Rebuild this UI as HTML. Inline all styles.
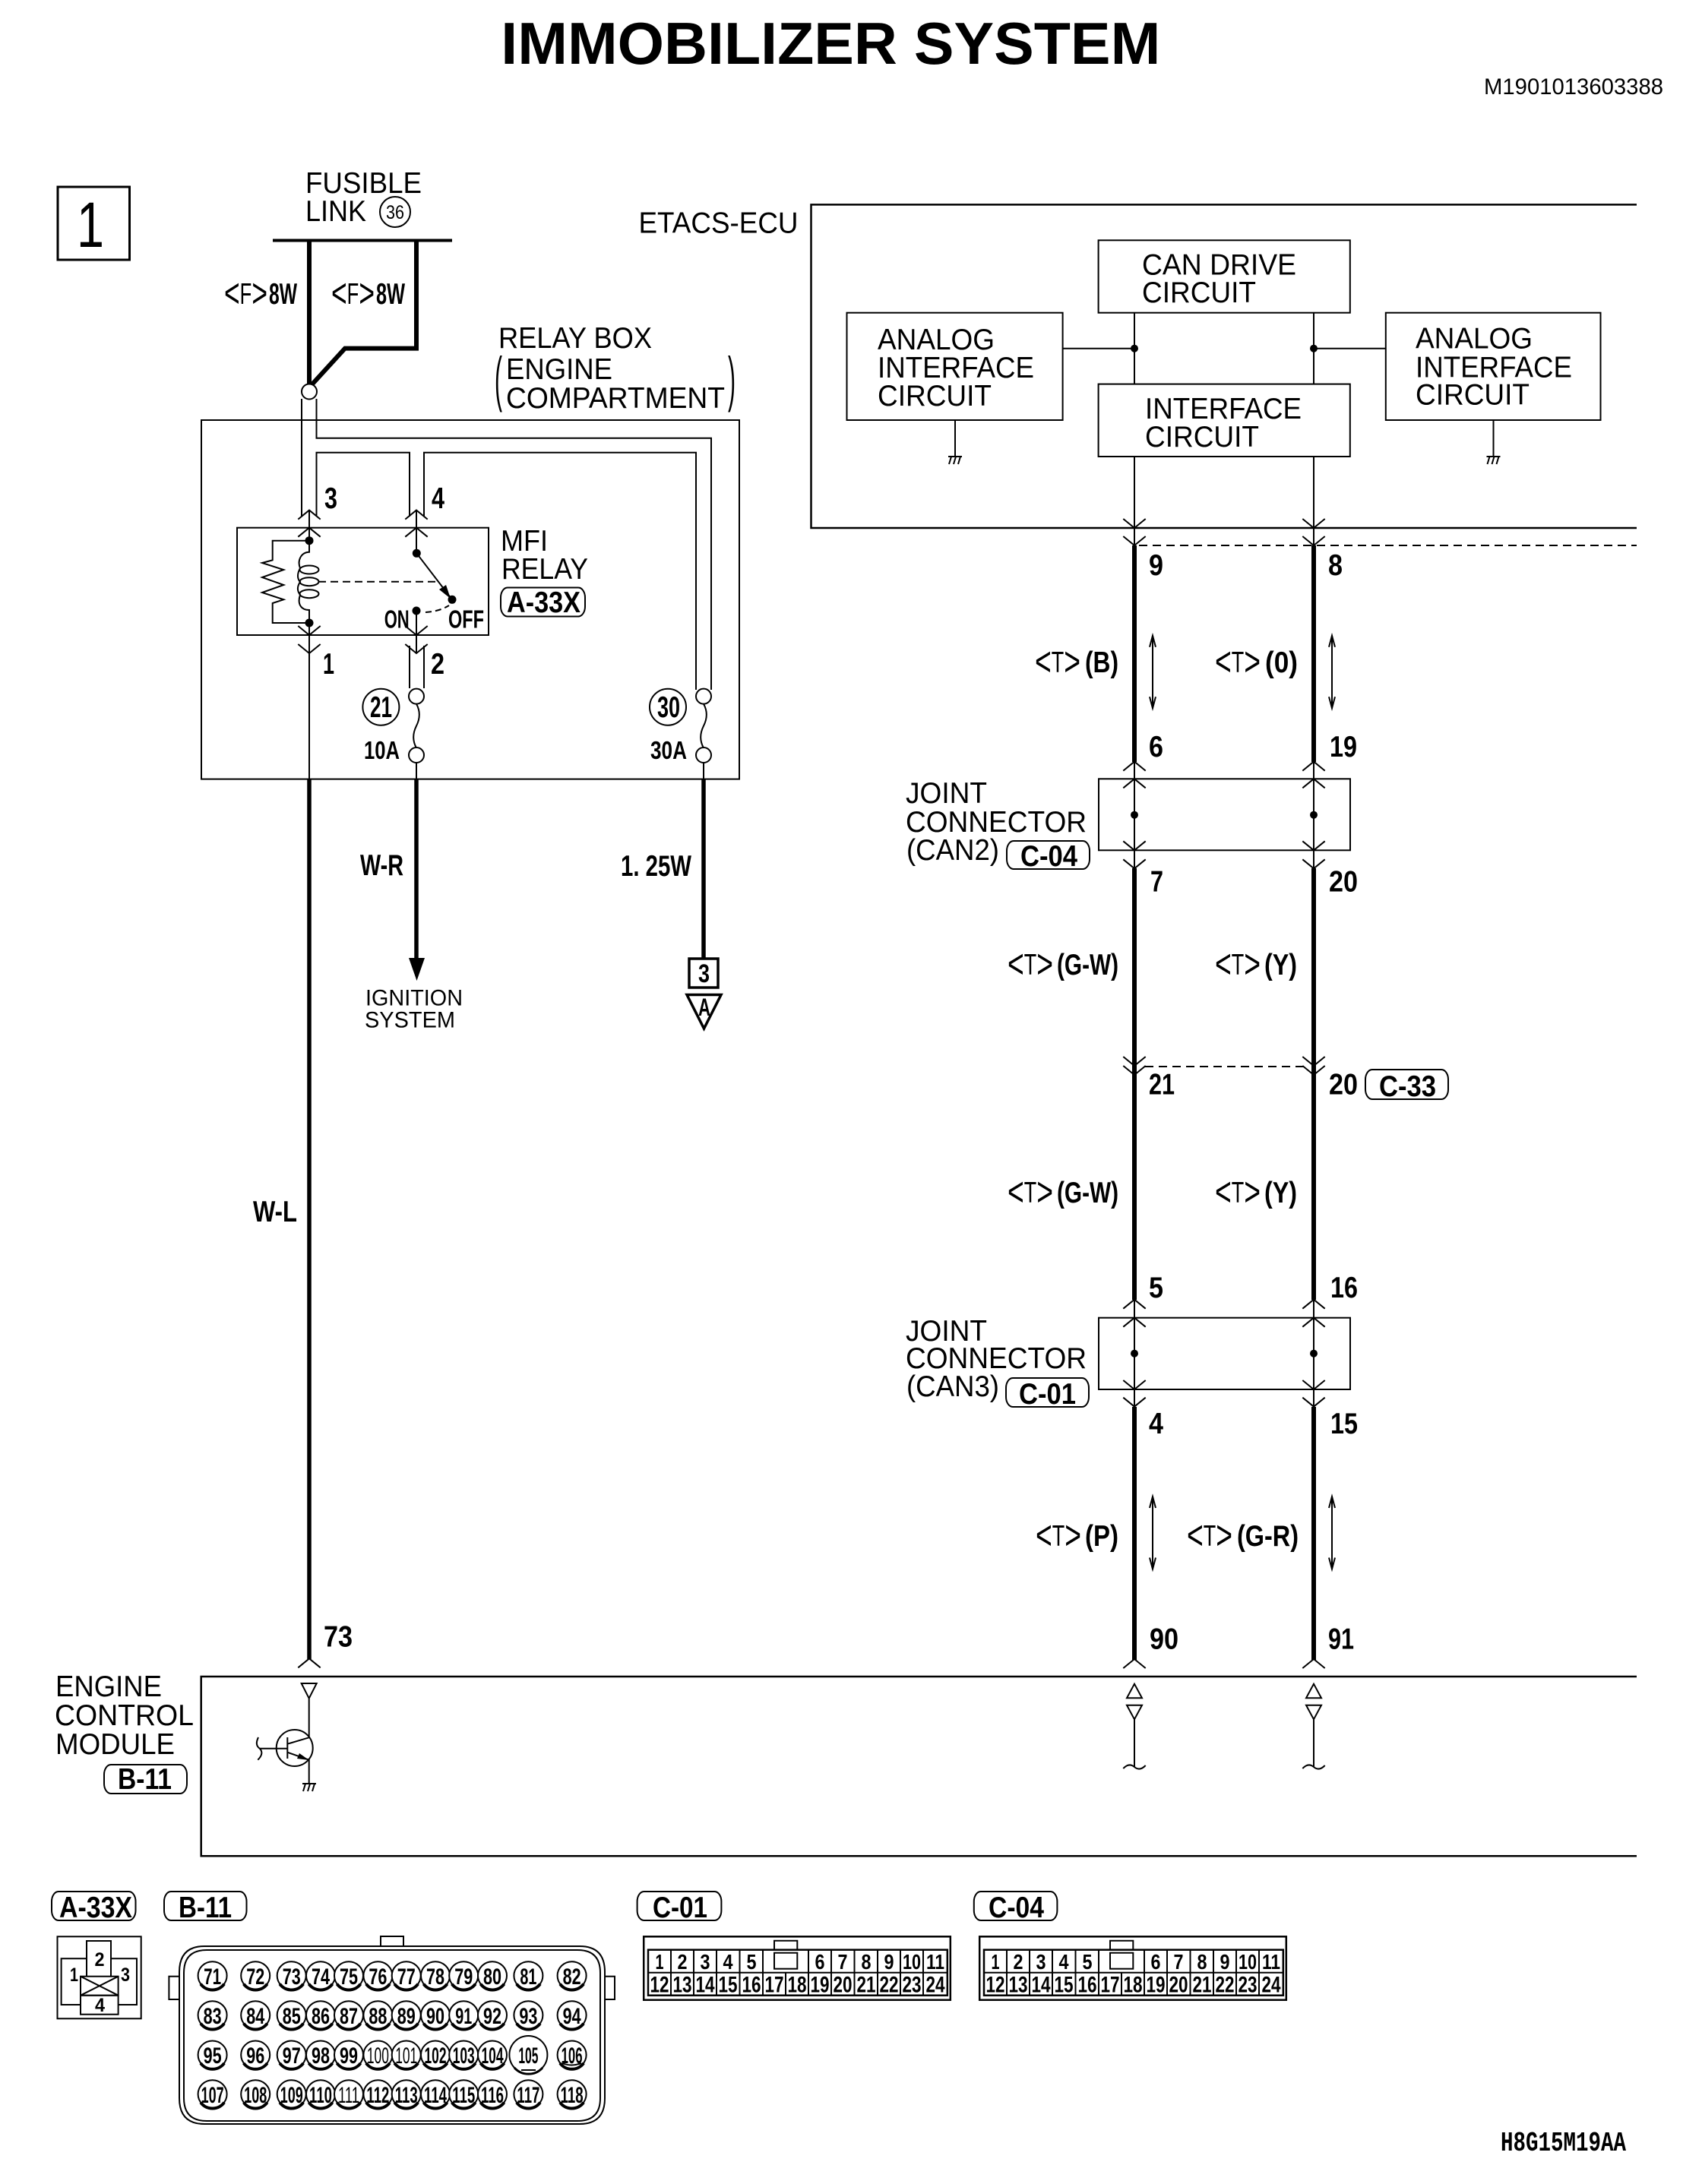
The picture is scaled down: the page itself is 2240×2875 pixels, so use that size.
<!DOCTYPE html>
<html><head><meta charset="utf-8"><title>IMMOBILIZER SYSTEM</title>
<style>
html,body{margin:0;padding:0;background:#fff}
svg{display:block}
text{font-family:"Liberation Sans",sans-serif;fill:#000;stroke:none}
.r{font-size:39px}
.b{font-size:39px;font-weight:bold}
.s{font-size:30px}
.p{font-size:30px;font-weight:bold;text-anchor:middle}
.c{font-size:28px;font-weight:bold;text-anchor:middle}
.d{font-size:30px;font-weight:bold;text-anchor:middle}
.k{font-size:54px;font-weight:normal}
</style></head><body>
<svg xmlns="http://www.w3.org/2000/svg" width="2240" height="2875" viewBox="0 0 2240 2875">
<defs>
<path id="up" d="M-14.7 12L0 0L14.7 12" fill="none" stroke="#000" stroke-width="2"/>
<path id="dn" d="M-14.7 -12L0 0L14.7 -12" fill="none" stroke="#000" stroke-width="2"/>
<path id="gnd" d="M-9 0H9M-5 0L-8 10M1 0L-2 10M7 0L4 10" fill="none" stroke="#000" stroke-width="2"/>
<path id="arr" d="M0 0V95.5M-4 15L0 0L4 15M-4 80.5L0 95.5L4 80.5" fill="none" stroke="#000" stroke-width="2"/>
<path id="fuse" d="M0 10C5 19 5 29 0 39C-5 49 -5 59 0 68" fill="none" stroke="#000" stroke-width="2"/>
<g id="pin"><ellipse cx="0" cy="0" rx="19" ry="18.5" fill="#fff" stroke="#000" stroke-width="2"/><path d="M-15.5 11A19 18.5 0 0 0 15.5 11" fill="none" stroke="#000" stroke-width="4"/></g>
<path id="tilde" d="M-14.7 2Q-7 -6 0 0Q7 6 14.7 -2" fill="none" stroke="#000" stroke-width="2"/>
</defs>
<rect width="2240" height="2875" fill="#fff"/>

<!-- header -->
<text x="659.3" y="84" font-size="78" font-weight="bold" textLength="868" lengthAdjust="spacingAndGlyphs">IMMOBILIZER SYSTEM</text>
<text x="1953" y="124" font-size="30" textLength="236" lengthAdjust="spacingAndGlyphs">M1901013603388</text>
<text x="1975" y="2831" font-size="36" font-weight="bold" textLength="165" lengthAdjust="spacingAndGlyphs" style="font-family:'Liberation Mono',monospace">H8G15M19AA</text>
<rect x="76" y="246" width="94.5" height="96" fill="none" stroke="#000" stroke-width="3"/>
<text x="101" y="325" font-size="84" textLength="36" lengthAdjust="spacingAndGlyphs">1</text>

<!-- fusible link -->
<text class="r" x="402" y="254" textLength="153" lengthAdjust="spacingAndGlyphs">FUSIBLE</text>
<text class="r" x="402" y="291" textLength="80" lengthAdjust="spacingAndGlyphs">LINK</text>
<circle cx="520" cy="279" r="20" fill="none" stroke="#000" stroke-width="2"/>
<text x="508" y="288" font-size="25" textLength="24" lengthAdjust="spacingAndGlyphs">36</text>
<path d="M359 316.5H595" stroke="#000" stroke-width="4" fill="none"/>
<path d="M407 316V505M548 316V458.6H454L407 510" stroke="#000" stroke-width="6" fill="none"/>
<text class="r" x="295" y="400" textLength="57" lengthAdjust="spacingAndGlyphs"><tspan class="k" dy="4">&lt;</tspan><tspan dy="-4">F</tspan><tspan class="k" dy="4">&gt;</tspan></text>
<text class="b" x="354" y="400" textLength="37" lengthAdjust="spacingAndGlyphs">8W</text>
<text class="r" x="436" y="400" textLength="57" lengthAdjust="spacingAndGlyphs"><tspan class="k" dy="4">&lt;</tspan><tspan dy="-4">F</tspan><tspan class="k" dy="4">&gt;</tspan></text>
<text class="b" x="495" y="400" textLength="38" lengthAdjust="spacingAndGlyphs">8W</text>

<!-- relay box -->
<text class="r" x="656" y="458" textLength="202" lengthAdjust="spacingAndGlyphs">RELAY BOX</text>
<text class="r" x="666" y="499" textLength="140" lengthAdjust="spacingAndGlyphs">ENGINE</text>
<text class="r" x="666" y="537" textLength="288" lengthAdjust="spacingAndGlyphs">COMPARTMENT</text>
<text x="651" y="526" font-size="80" textLength="10" lengthAdjust="spacingAndGlyphs">(</text>
<text x="958" y="526" font-size="80" textLength="10" lengthAdjust="spacingAndGlyphs">)</text>
<g fill="none" stroke="#000" stroke-width="2">
<rect x="265" y="553" width="708" height="472.6"/>
<path d="M397 525V680M416.5 525V576.8H936V908M416.5 680V595.7H539V680M558 680V595.7H916V908"/>
<rect x="312" y="694.7" width="331" height="141.3"/>
<path d="M407 672V711M548 672V728M407 820V1025M548 804V860"/>
<path d="M539 850V906M558 850V906"/>
<path d="M403 711.7H358.7V737.3L345 741L373.3 750L345 760L373.3 770L345 780L373.3 789.3L358.7 794V820H403"/>
<path d="M407 711.7V726.7C396 727 391 738 395 748C391 755 391 762 395 766C391 772 391 778 395 783C391 795 396 803 407 803V820"/>
<ellipse cx="407" cy="750" rx="12.5" ry="5.5"/><ellipse cx="407" cy="765.7" rx="12.5" ry="5.5"/><ellipse cx="407" cy="781.7" rx="12.5" ry="5.5"/>
<path d="M419 765.7H577" stroke-dasharray="10 6"/>
<path d="M548.3 728.3L595 789.3"/>
<path d="M560 806Q578 805 591 797" stroke-dasharray="8 5"/>
</g>
<polygon points="593,788 578,776 587,770"/>
<circle cx="407" cy="711.7" r="5.5"/><circle cx="407" cy="820" r="5.5"/><circle cx="548.3" cy="728.3" r="5.5"/><circle cx="595" cy="789.3" r="5.5"/><circle cx="548" cy="804" r="5.5"/>
<use href="#up" x="407" y="671.6"/><use href="#up" x="407" y="694.7"/><use href="#up" x="548" y="671.6"/><use href="#up" x="548" y="694.7"/>
<use href="#dn" x="407" y="836"/><use href="#dn" x="407" y="860"/><use href="#dn" x="548" y="836"/><use href="#dn" x="548" y="860"/>
<text class="b" x="427" y="669" textLength="17" lengthAdjust="spacingAndGlyphs">3</text>
<text class="b" x="568" y="669" textLength="17" lengthAdjust="spacingAndGlyphs">4</text>
<text class="b" x="425" y="887" textLength="15" lengthAdjust="spacingAndGlyphs">1</text>
<text class="b" x="567" y="887" textLength="18" lengthAdjust="spacingAndGlyphs">2</text>
<text class="r" x="659" y="725" textLength="62" lengthAdjust="spacingAndGlyphs">MFI</text>
<text class="r" x="660" y="762" textLength="114" lengthAdjust="spacingAndGlyphs">RELAY</text>
<rect x="659" y="773.5" width="111" height="38" rx="9" ry="13" fill="none" stroke="#000" stroke-width="2"/>
<text class="b" x="667" y="806" textLength="97" lengthAdjust="spacingAndGlyphs">A-33X</text>
<text x="505.7" y="826.7" font-size="33" font-weight="bold" textLength="33" lengthAdjust="spacingAndGlyphs">ON</text>
<text x="590" y="826.7" font-size="33" font-weight="bold" textLength="47" lengthAdjust="spacingAndGlyphs">OFF</text>
<!-- fuses -->
<g fill="#fff" stroke="#000" stroke-width="2">
<circle cx="407" cy="515.5" r="10"/>
<circle cx="548" cy="916.6" r="10"/><circle cx="548" cy="994" r="10"/>
<circle cx="926" cy="916.6" r="10"/><circle cx="926" cy="994" r="10"/>
<circle cx="501.4" cy="930.7" r="24"/><circle cx="879" cy="930.7" r="24"/>
</g>
<use href="#fuse" x="548" y="916.6"/><use href="#fuse" x="926" y="916.6"/>
<path d="M548 1004V1025M926 1004V1025" stroke="#000" stroke-width="2"/>
<text class="b" x="487" y="944" textLength="29" lengthAdjust="spacingAndGlyphs">21</text>
<text class="b" x="865" y="944" textLength="30" lengthAdjust="spacingAndGlyphs">30</text>
<text x="479" y="999" font-size="33" font-weight="bold" textLength="47" lengthAdjust="spacingAndGlyphs">10A</text>
<text x="856" y="999" font-size="33" font-weight="bold" textLength="48" lengthAdjust="spacingAndGlyphs">30A</text>
<!-- lower wires -->
<path d="M407 1025V2184M548 1025V1263M926 1025V1261" stroke="#000" stroke-width="5.5" fill="none"/>
<polygon points="538,1261 559,1261 548.5,1291"/>
<text class="b" x="474" y="1152" textLength="57" lengthAdjust="spacingAndGlyphs">W-R</text>
<text class="b" x="817" y="1153" textLength="93" lengthAdjust="spacingAndGlyphs">1. 25W</text>
<text class="b" x="333" y="1608" textLength="58" lengthAdjust="spacingAndGlyphs">W-L</text>
<text class="s" x="481" y="1323.5" textLength="128" lengthAdjust="spacingAndGlyphs">IGNITION</text>
<text class="s" x="480" y="1352.5" textLength="119" lengthAdjust="spacingAndGlyphs">SYSTEM</text>
<rect x="907" y="1262" width="38" height="38" fill="none" stroke="#000" stroke-width="3.5"/>
<text x="919" y="1293" font-size="34" font-weight="bold" textLength="15" lengthAdjust="spacingAndGlyphs">3</text>
<polygon points="904,1309.5 949,1309.5 926.5,1354" fill="none" stroke="#000" stroke-width="3.5"/>
<text x="919" y="1337" font-size="32" font-weight="bold" textLength="16" lengthAdjust="spacingAndGlyphs">A</text>

<!-- ETACS -->
<text class="r" x="840.5" y="306.7" textLength="210" lengthAdjust="spacingAndGlyphs">ETACS-ECU</text>
<g fill="none" stroke="#000" stroke-width="2">
<path d="M2154 269.4H1067.5V695H2154" stroke-width="2.5"/>
<rect x="1445.6" y="316.3" width="331.2" height="95.4"/>
<rect x="1114.5" y="411.7" width="284.1" height="141.3"/>
<rect x="1823.8" y="411.7" width="282.7" height="141.3"/>
<rect x="1445.6" y="505.6" width="331.2" height="95.4"/>
<path d="M1493 411.7V505.6M1729 411.7V505.6M1398.6 458.7H1493M1729 458.7H1823.8M1493 601V718M1729 601V718M1257 553V600M1965.5 553V600"/>
<path d="M1499 718H2154" stroke-dasharray="11 7"/>
</g>
<circle cx="1493" cy="458.7" r="5"/><circle cx="1729" cy="458.7" r="5"/>
<use href="#gnd" x="1257" y="601"/><use href="#gnd" x="1965.5" y="601"/>
<text class="r" x="1503" y="361.5" textLength="203" lengthAdjust="spacingAndGlyphs">CAN DRIVE</text>
<text class="r" x="1503" y="398" textLength="150" lengthAdjust="spacingAndGlyphs">CIRCUIT</text>
<text class="r" x="1155" y="460" textLength="154" lengthAdjust="spacingAndGlyphs">ANALOG</text>
<text class="r" x="1155" y="497" textLength="206" lengthAdjust="spacingAndGlyphs">INTERFACE</text>
<text class="r" x="1155" y="534" textLength="150" lengthAdjust="spacingAndGlyphs">CIRCUIT</text>
<text class="r" x="1863" y="458.7" textLength="154" lengthAdjust="spacingAndGlyphs">ANALOG</text>
<text class="r" x="1863" y="496.5" textLength="206" lengthAdjust="spacingAndGlyphs">INTERFACE</text>
<text class="r" x="1863" y="532.7" textLength="150" lengthAdjust="spacingAndGlyphs">CIRCUIT</text>
<text class="r" x="1507" y="551" textLength="206" lengthAdjust="spacingAndGlyphs">INTERFACE</text>
<text class="r" x="1507" y="587.8" textLength="150" lengthAdjust="spacingAndGlyphs">CIRCUIT</text>

<!-- CAN thick wires -->
<path d="M1493 718V1003M1729 718V1003M1493 1143V1711M1729 1143V1711M1493 1852V2185M1729 1852V2185" stroke="#000" stroke-width="6" fill="none"/>
<g>
<use href="#dn" x="1493" y="695"/><use href="#dn" x="1493" y="718"/><use href="#dn" x="1729" y="695"/><use href="#dn" x="1729" y="718"/>
<use href="#up" x="1493" y="1002.6"/><use href="#up" x="1493" y="1025.3"/><use href="#up" x="1729" y="1002.6"/><use href="#up" x="1729" y="1025.3"/>
<use href="#dn" x="1493" y="1119.3"/><use href="#dn" x="1493" y="1143.3"/><use href="#dn" x="1729" y="1119.3"/><use href="#dn" x="1729" y="1143.3"/>
<use href="#dn" x="1493" y="1403"/><use href="#dn" x="1493" y="1415"/><use href="#dn" x="1729" y="1403"/><use href="#dn" x="1729" y="1415"/>
<use href="#up" x="1493" y="1710.7"/><use href="#up" x="1493" y="1734.7"/><use href="#up" x="1729" y="1710.7"/><use href="#up" x="1729" y="1734.7"/>
<use href="#dn" x="1493" y="1829"/><use href="#dn" x="1493" y="1851.7"/><use href="#dn" x="1729" y="1829"/><use href="#dn" x="1729" y="1851.7"/>
<use href="#up" x="407" y="2183.3"/><use href="#up" x="1493" y="2184"/><use href="#up" x="1729" y="2184"/>
</g>
<g fill="none" stroke="#000" stroke-width="2">
<rect x="1446" y="1025.3" width="331" height="94"/>
<rect x="1446" y="1734.7" width="331" height="94.3"/>
<path d="M1493 1003V1143M1729 1003V1143M1493 1711V1852M1729 1711V1852"/>
<path d="M1507 1404H1719" stroke-dasharray="11 7"/>
</g>
<circle cx="1493" cy="1072.7" r="5"/><circle cx="1729" cy="1072.7" r="5"/><circle cx="1493" cy="1781.7" r="5"/><circle cx="1729" cy="1781.7" r="5"/>
<use href="#arr" x="1517" y="836.7"/><use href="#arr" x="1753" y="836.7"/><use href="#arr" x="1517" y="1970"/><use href="#arr" x="1753" y="1970"/>

<!-- pin numbers -->
<text class="b" x="1512" y="757" textLength="19" lengthAdjust="spacingAndGlyphs">9</text>
<text class="b" x="1748" y="757" textLength="19" lengthAdjust="spacingAndGlyphs">8</text>
<text class="b" x="1512" y="996" textLength="19" lengthAdjust="spacingAndGlyphs">6</text>
<text class="b" x="1750" y="996" textLength="36" lengthAdjust="spacingAndGlyphs">19</text>
<text class="b" x="1514" y="1173.5" textLength="17" lengthAdjust="spacingAndGlyphs">7</text>
<text class="b" x="1749" y="1173.5" textLength="38" lengthAdjust="spacingAndGlyphs">20</text>
<text class="b" x="1512" y="1440.5" textLength="34" lengthAdjust="spacingAndGlyphs">21</text>
<text class="b" x="1749" y="1440.5" textLength="38" lengthAdjust="spacingAndGlyphs">20</text>
<text class="b" x="1512" y="1708" textLength="19" lengthAdjust="spacingAndGlyphs">5</text>
<text class="b" x="1751" y="1708" textLength="36" lengthAdjust="spacingAndGlyphs">16</text>
<text class="b" x="1512" y="1887" textLength="19" lengthAdjust="spacingAndGlyphs">4</text>
<text class="b" x="1751" y="1887" textLength="36" lengthAdjust="spacingAndGlyphs">15</text>
<text class="b" x="1513" y="2170.7" textLength="38" lengthAdjust="spacingAndGlyphs">90</text>
<text class="b" x="1748" y="2170.7" textLength="34" lengthAdjust="spacingAndGlyphs">91</text>
<text class="b" x="426" y="2167.5" textLength="38" lengthAdjust="spacingAndGlyphs">73</text>

<!-- wire colour labels -->
<text class="r" x="1362" y="885" textLength="60" lengthAdjust="spacingAndGlyphs"><tspan class="k" dy="4">&lt;</tspan><tspan dy="-4">T</tspan><tspan class="k" dy="4">&gt;</tspan></text>
<text class="b" x="1428" y="885" textLength="44" lengthAdjust="spacingAndGlyphs">(B)</text>
<text class="r" x="1599" y="885" textLength="60" lengthAdjust="spacingAndGlyphs"><tspan class="k" dy="4">&lt;</tspan><tspan dy="-4">T</tspan><tspan class="k" dy="4">&gt;</tspan></text>
<text class="b" x="1665" y="885" textLength="43" lengthAdjust="spacingAndGlyphs">(0)</text>
<text class="r" x="1326" y="1283" textLength="60" lengthAdjust="spacingAndGlyphs"><tspan class="k" dy="4">&lt;</tspan><tspan dy="-4">T</tspan><tspan class="k" dy="4">&gt;</tspan></text>
<text class="b" x="1391" y="1283" textLength="81" lengthAdjust="spacingAndGlyphs">(G-W)</text>
<text class="r" x="1599" y="1283" textLength="60" lengthAdjust="spacingAndGlyphs"><tspan class="k" dy="4">&lt;</tspan><tspan dy="-4">T</tspan><tspan class="k" dy="4">&gt;</tspan></text>
<text class="b" x="1664" y="1283" textLength="43" lengthAdjust="spacingAndGlyphs">(Y)</text>
<text class="r" x="1326" y="1583" textLength="60" lengthAdjust="spacingAndGlyphs"><tspan class="k" dy="4">&lt;</tspan><tspan dy="-4">T</tspan><tspan class="k" dy="4">&gt;</tspan></text>
<text class="b" x="1391" y="1583" textLength="81" lengthAdjust="spacingAndGlyphs">(G-W)</text>
<text class="r" x="1599" y="1583" textLength="60" lengthAdjust="spacingAndGlyphs"><tspan class="k" dy="4">&lt;</tspan><tspan dy="-4">T</tspan><tspan class="k" dy="4">&gt;</tspan></text>
<text class="b" x="1664" y="1583" textLength="43" lengthAdjust="spacingAndGlyphs">(Y)</text>
<text class="r" x="1363" y="2035" textLength="60" lengthAdjust="spacingAndGlyphs"><tspan class="k" dy="4">&lt;</tspan><tspan dy="-4">T</tspan><tspan class="k" dy="4">&gt;</tspan></text>
<text class="b" x="1428" y="2035" textLength="44" lengthAdjust="spacingAndGlyphs">(P)</text>
<text class="r" x="1562" y="2035" textLength="60" lengthAdjust="spacingAndGlyphs"><tspan class="k" dy="4">&lt;</tspan><tspan dy="-4">T</tspan><tspan class="k" dy="4">&gt;</tspan></text>
<text class="b" x="1628" y="2035" textLength="81" lengthAdjust="spacingAndGlyphs">(G-R)</text>

<!-- joint connector labels -->
<text class="r" x="1192" y="1057" textLength="107" lengthAdjust="spacingAndGlyphs">JOINT</text>
<text class="r" x="1192" y="1095" textLength="238" lengthAdjust="spacingAndGlyphs">CONNECTOR</text>
<text class="r" x="1193" y="1132" textLength="122" lengthAdjust="spacingAndGlyphs">(CAN2)</text>
<rect x="1325" y="1107" width="109" height="37" rx="9" ry="13" fill="none" stroke="#000" stroke-width="2"/>
<text class="b" x="1343" y="1140" textLength="75" lengthAdjust="spacingAndGlyphs">C-04</text>
<rect x="1797" y="1408" width="109" height="39" rx="9" ry="13" fill="none" stroke="#000" stroke-width="2"/>
<text class="b" x="1815" y="1443" textLength="75" lengthAdjust="spacingAndGlyphs">C-33</text>
<text class="r" x="1192" y="1765" textLength="107" lengthAdjust="spacingAndGlyphs">JOINT</text>
<text class="r" x="1192" y="1801" textLength="238" lengthAdjust="spacingAndGlyphs">CONNECTOR</text>
<text class="r" x="1193" y="1838" textLength="122" lengthAdjust="spacingAndGlyphs">(CAN3)</text>
<rect x="1324" y="1814" width="109" height="38" rx="9" ry="13" fill="none" stroke="#000" stroke-width="2"/>
<text class="b" x="1341" y="1848" textLength="75" lengthAdjust="spacingAndGlyphs">C-01</text>

<!-- ECM -->
<g fill="none" stroke="#000" stroke-width="2.5">
<path d="M2154 2207H264.7V2443.3H2154"/>
</g>
<g fill="none" stroke="#000" stroke-width="2">
<polygon points="396.7,2216 416.7,2216 406.7,2235.7"/>
<path d="M406.7 2235.7V2287.3L378.3 2295.7M378.3 2287V2315M378.3 2306.7L406.7 2316.7V2348"/>
<circle cx="387.7" cy="2301" r="24"/>
<path d="M341.7 2301.7H378.3"/>
<path d="M340 2287Q335 2297 341.7 2301.7Q348 2308 339.3 2316.7"/>
<polygon points="1483,2235.3 1503,2235.3 1493,2216.7"/>
<polygon points="1483,2244.7 1503,2244.7 1493,2263.3"/>
<polygon points="1719,2235.3 1739,2235.3 1729,2216.7"/>
<polygon points="1719,2244.7 1739,2244.7 1729,2263.3"/>
<path d="M1493 2263V2326M1729 2263V2326"/>
</g>
<polygon points="406.7,2317 394,2308 391,2315"/>
<use href="#gnd" x="407" y="2348"/>
<use href="#tilde" x="1493" y="2326"/><use href="#tilde" x="1729" y="2326"/>
<text class="r" x="73" y="2233" textLength="140" lengthAdjust="spacingAndGlyphs">ENGINE</text>
<text class="r" x="72" y="2271" textLength="183" lengthAdjust="spacingAndGlyphs">CONTROL</text>
<text class="r" x="73" y="2309" textLength="157" lengthAdjust="spacingAndGlyphs">MODULE</text>
<rect x="137" y="2323" width="109" height="38" rx="9" ry="13" fill="none" stroke="#000" stroke-width="2"/>
<text class="b" x="155" y="2355" textLength="71" lengthAdjust="spacingAndGlyphs">B-11</text>

<!-- bottom connector tags -->
<g fill="none" stroke="#000" stroke-width="2">
<rect x="68" y="2490" width="110.5" height="38" rx="9" ry="13"/>
<rect x="216" y="2490" width="108.5" height="38" rx="9" ry="13"/>
<rect x="838.6" y="2490" width="110.8" height="38" rx="9" ry="13"/>
<rect x="1281.8" y="2490" width="109.6" height="38" rx="9" ry="13"/>
</g>
<text class="b" x="78" y="2524" textLength="96" lengthAdjust="spacingAndGlyphs">A-33X</text>
<text class="b" x="235" y="2524" textLength="70" lengthAdjust="spacingAndGlyphs">B-11</text>
<text class="b" x="859" y="2524" textLength="72" lengthAdjust="spacingAndGlyphs">C-01</text>
<text class="b" x="1301" y="2524" textLength="73" lengthAdjust="spacingAndGlyphs">C-04</text>

<!-- A-33X connector -->
<g fill="none" stroke="#000" stroke-width="2">
<rect x="75.5" y="2549.3" width="110.2" height="108"/>
<path d="M114 2601.7V2555H146V2601.7"/>
<path d="M114 2578.3H80.6V2639H106M146 2578.3H180V2639H155.6"/>
<rect x="106" y="2601.7" width="49.6" height="25"/>
<path d="M106 2601.7L155.6 2626.7M155.6 2601.7L106 2626.7"/>
<rect x="106" y="2626.7" width="49.6" height="25"/>
</g>
<text class="d" x="131" y="2588" textLength="13" lengthAdjust="spacingAndGlyphs" style="font-size:25px">2</text>
<text class="d" x="97.5" y="2608" textLength="11" lengthAdjust="spacingAndGlyphs" style="font-size:25px">1</text>
<text class="d" x="165" y="2608" textLength="12" lengthAdjust="spacingAndGlyphs" style="font-size:25px">3</text>
<text class="d" x="131.5" y="2648" textLength="13" lengthAdjust="spacingAndGlyphs" style="font-size:25px">4</text>

<!-- B-11 connector -->
<g fill="none" stroke="#000" stroke-width="2">
<rect x="501" y="2549" width="30" height="18"/>
<rect x="222.4" y="2601.7" width="19.6" height="30.3"/>
<rect x="790" y="2601.7" width="19" height="30.3"/>
<path d="M269 2562H763Q796 2562 796 2596V2762Q796 2796 763 2796H269Q236 2796 236 2762V2596Q236 2562 269 2562Z" fill="#fff"/>
<path d="M272 2567H760Q790 2567 790 2597V2762Q790 2792 760 2792H272Q242 2792 242 2762V2597Q242 2567 272 2567Z"/>
</g>
<use href="#pin" x="279.6" y="2600.7"/><use href="#pin" x="336.2" y="2600.7"/><use href="#pin" x="383.7" y="2600.7"/><use href="#pin" x="422" y="2600.7"/><use href="#pin" x="459" y="2600.7"/><use href="#pin" x="497.4" y="2600.7"/><use href="#pin" x="534.7" y="2600.7"/><use href="#pin" x="573" y="2600.7"/><use href="#pin" x="610.2" y="2600.7"/><use href="#pin" x="648" y="2600.7"/><use href="#pin" x="695.4" y="2600.7"/><use href="#pin" x="752.6" y="2600.7"/>
<use href="#pin" x="279.6" y="2652.7"/><use href="#pin" x="336.2" y="2652.7"/><use href="#pin" x="383.7" y="2652.7"/><use href="#pin" x="422" y="2652.7"/><use href="#pin" x="459" y="2652.7"/><use href="#pin" x="497.4" y="2652.7"/><use href="#pin" x="534.7" y="2652.7"/><use href="#pin" x="573" y="2652.7"/><use href="#pin" x="610.2" y="2652.7"/><use href="#pin" x="648" y="2652.7"/><use href="#pin" x="695.4" y="2652.7"/><use href="#pin" x="752.6" y="2652.7"/>
<use href="#pin" x="279.6" y="2705"/><use href="#pin" x="336.2" y="2705"/><use href="#pin" x="383.7" y="2705"/><use href="#pin" x="422" y="2705"/><use href="#pin" x="459" y="2705"/><use href="#pin" x="497.4" y="2705"/><use href="#pin" x="534.7" y="2705"/><use href="#pin" x="573" y="2705"/><use href="#pin" x="610.2" y="2705"/><use href="#pin" x="648" y="2705"/><use href="#pin" x="752.6" y="2705"/>
<use href="#pin" x="279.6" y="2756.7"/><use href="#pin" x="336.2" y="2756.7"/><use href="#pin" x="383.7" y="2756.7"/><use href="#pin" x="422" y="2756.7"/><use href="#pin" x="459" y="2756.7"/><use href="#pin" x="497.4" y="2756.7"/><use href="#pin" x="534.7" y="2756.7"/><use href="#pin" x="573" y="2756.7"/><use href="#pin" x="610.2" y="2756.7"/><use href="#pin" x="648" y="2756.7"/><use href="#pin" x="695.4" y="2756.7"/><use href="#pin" x="752.6" y="2756.7"/>
<ellipse cx="695.4" cy="2705" rx="25" ry="25" fill="#fff" stroke="#000" stroke-width="2"/>
<path d="M677 2722A25 25 0 0 0 714 2722" fill="none" stroke="#000" stroke-width="3"/>
<path d="M686 2725H705" stroke="#000" stroke-width="2"/>
<path d="M740 2716Q752 2721 765 2716" fill="none" stroke="#000" stroke-width="2"/>
<g>
<text class="p" x="279.6" y="2612" textLength="23" lengthAdjust="spacingAndGlyphs">71</text><text class="p" x="336.2" y="2612" textLength="24" lengthAdjust="spacingAndGlyphs">72</text><text class="p" x="383.7" y="2612" textLength="24" lengthAdjust="spacingAndGlyphs">73</text><text class="p" x="422" y="2612" textLength="24" lengthAdjust="spacingAndGlyphs">74</text><text class="p" x="459" y="2612" textLength="24" lengthAdjust="spacingAndGlyphs">75</text><text class="p" x="497.4" y="2612" textLength="24" lengthAdjust="spacingAndGlyphs">76</text><text class="p" x="534.7" y="2612" textLength="24" lengthAdjust="spacingAndGlyphs">77</text><text class="p" x="573" y="2612" textLength="24" lengthAdjust="spacingAndGlyphs">78</text><text class="p" x="610.2" y="2612" textLength="24" lengthAdjust="spacingAndGlyphs">79</text><text class="p" x="648" y="2612" textLength="24" lengthAdjust="spacingAndGlyphs">80</text><text class="p" x="695.4" y="2612" textLength="22" lengthAdjust="spacingAndGlyphs">81</text><text class="p" x="752.6" y="2612" textLength="24" lengthAdjust="spacingAndGlyphs">82</text>
<text class="p" x="279.6" y="2664" textLength="24" lengthAdjust="spacingAndGlyphs">83</text><text class="p" x="336.2" y="2664" textLength="24" lengthAdjust="spacingAndGlyphs">84</text><text class="p" x="383.7" y="2664" textLength="24" lengthAdjust="spacingAndGlyphs">85</text><text class="p" x="422" y="2664" textLength="24" lengthAdjust="spacingAndGlyphs">86</text><text class="p" x="459" y="2664" textLength="24" lengthAdjust="spacingAndGlyphs">87</text><text class="p" x="497.4" y="2664" textLength="24" lengthAdjust="spacingAndGlyphs">88</text><text class="p" x="534.7" y="2664" textLength="24" lengthAdjust="spacingAndGlyphs">89</text><text class="p" x="573" y="2664" textLength="24" lengthAdjust="spacingAndGlyphs">90</text><text class="p" x="610.2" y="2664" textLength="22" lengthAdjust="spacingAndGlyphs">91</text><text class="p" x="648" y="2664" textLength="24" lengthAdjust="spacingAndGlyphs">92</text><text class="p" x="695.4" y="2664" textLength="24" lengthAdjust="spacingAndGlyphs">93</text><text class="p" x="752.6" y="2664" textLength="24" lengthAdjust="spacingAndGlyphs">94</text>
<text class="p" x="279.6" y="2716" textLength="24" lengthAdjust="spacingAndGlyphs">95</text><text class="p" x="336.2" y="2716" textLength="24" lengthAdjust="spacingAndGlyphs">96</text><text class="p" x="383.7" y="2716" textLength="24" lengthAdjust="spacingAndGlyphs">97</text><text class="p" x="422" y="2716" textLength="24" lengthAdjust="spacingAndGlyphs">98</text><text class="p" x="459" y="2716" textLength="24" lengthAdjust="spacingAndGlyphs">99</text><text class="p" x="497.4" y="2716" textLength="29" lengthAdjust="spacingAndGlyphs" font-weight="normal" style="font-weight:normal">100</text><text class="p" x="534.7" y="2716" textLength="29" lengthAdjust="spacingAndGlyphs" style="font-weight:normal">101</text><text class="p" x="573" y="2716" textLength="29" lengthAdjust="spacingAndGlyphs">102</text><text class="p" x="610.2" y="2716" textLength="29" lengthAdjust="spacingAndGlyphs">103</text><text class="p" x="648" y="2716" textLength="29" lengthAdjust="spacingAndGlyphs">104</text><text class="p" x="695.4" y="2716" textLength="26" lengthAdjust="spacingAndGlyphs">105</text><text class="p" x="752.6" y="2716" textLength="28" lengthAdjust="spacingAndGlyphs">106</text>
<text class="p" x="279.6" y="2768" textLength="30" lengthAdjust="spacingAndGlyphs">107</text><text class="p" x="336.2" y="2768" textLength="30" lengthAdjust="spacingAndGlyphs">108</text><text class="p" x="383.7" y="2768" textLength="30" lengthAdjust="spacingAndGlyphs">109</text><text class="p" x="422" y="2768" textLength="30" lengthAdjust="spacingAndGlyphs">110</text><text class="p" x="459" y="2768" textLength="28" lengthAdjust="spacingAndGlyphs" style="font-weight:normal">111</text><text class="p" x="497.4" y="2768" textLength="30" lengthAdjust="spacingAndGlyphs">112</text><text class="p" x="534.7" y="2768" textLength="30" lengthAdjust="spacingAndGlyphs">113</text><text class="p" x="573" y="2768" textLength="30" lengthAdjust="spacingAndGlyphs">114</text><text class="p" x="610.2" y="2768" textLength="30" lengthAdjust="spacingAndGlyphs">115</text><text class="p" x="648" y="2768" textLength="30" lengthAdjust="spacingAndGlyphs">116</text><text class="p" x="695.4" y="2768" textLength="30" lengthAdjust="spacingAndGlyphs">117</text><text class="p" x="752.6" y="2768" textLength="30" lengthAdjust="spacingAndGlyphs">118</text>
</g>

<!-- C-01 grid -->
<g fill="none" stroke="#000" stroke-width="2">
<rect x="847.2" y="2549.3" width="403.6" height="83.4" stroke-width="2.5"/>
<rect x="853" y="2566.7" width="393.8" height="60" stroke-width="2.5"/>
<path d="M853 2596.7H1246.8M883 2566.7V2626.7M913 2566.7V2626.7M943 2566.7V2626.7M973.5 2566.7V2626.7M1004 2566.7V2626.7M1034 2596.7V2626.7M1064 2566.7V2626.7M1094 2566.7V2626.7M1124.5 2566.7V2626.7M1155 2566.7V2626.7M1185 2566.7V2626.7M1215 2566.7V2626.7"/>
<path d="M1019 2566.7V2554.7H1049.3V2566.7"/>
<rect x="1019" y="2570.7" width="30.3" height="21"/>
</g>
<g>
<text class="c" x="868" y="2592" textLength="11" lengthAdjust="spacingAndGlyphs">1</text><text class="c" x="898" y="2592" textLength="13" lengthAdjust="spacingAndGlyphs">2</text><text class="c" x="928" y="2592" textLength="13" lengthAdjust="spacingAndGlyphs">3</text><text class="c" x="958" y="2592" textLength="13" lengthAdjust="spacingAndGlyphs">4</text><text class="c" x="989" y="2592" textLength="13" lengthAdjust="spacingAndGlyphs">5</text><text class="c" x="1079" y="2592" textLength="13" lengthAdjust="spacingAndGlyphs">6</text><text class="c" x="1109" y="2592" textLength="13" lengthAdjust="spacingAndGlyphs">7</text><text class="c" x="1140" y="2592" textLength="13" lengthAdjust="spacingAndGlyphs">8</text><text class="c" x="1170" y="2592" textLength="13" lengthAdjust="spacingAndGlyphs">9</text><text class="c" x="1200" y="2592" textLength="24" lengthAdjust="spacingAndGlyphs">10</text><text class="c" x="1231" y="2592" textLength="24" lengthAdjust="spacingAndGlyphs">11</text>
<text class="d" x="868" y="2622.5" textLength="25" lengthAdjust="spacingAndGlyphs">12</text><text class="d" x="898" y="2622.5" textLength="25" lengthAdjust="spacingAndGlyphs">13</text><text class="d" x="928" y="2622.5" textLength="25" lengthAdjust="spacingAndGlyphs">14</text><text class="d" x="958" y="2622.5" textLength="25" lengthAdjust="spacingAndGlyphs">15</text><text class="d" x="989" y="2622.5" textLength="25" lengthAdjust="spacingAndGlyphs">16</text><text class="d" x="1019" y="2622.5" textLength="25" lengthAdjust="spacingAndGlyphs">17</text><text class="d" x="1049" y="2622.5" textLength="25" lengthAdjust="spacingAndGlyphs">18</text><text class="d" x="1079" y="2622.5" textLength="25" lengthAdjust="spacingAndGlyphs">19</text><text class="d" x="1109" y="2622.5" textLength="25" lengthAdjust="spacingAndGlyphs">20</text><text class="d" x="1140" y="2622.5" textLength="25" lengthAdjust="spacingAndGlyphs">21</text><text class="d" x="1170" y="2622.5" textLength="25" lengthAdjust="spacingAndGlyphs">22</text><text class="d" x="1200" y="2622.5" textLength="25" lengthAdjust="spacingAndGlyphs">23</text><text class="d" x="1231" y="2622.5" textLength="25" lengthAdjust="spacingAndGlyphs">24</text>
</g>
<!-- C-04 grid -->
<g transform="translate(442,0)">
<g fill="none" stroke="#000" stroke-width="2">
<rect x="847.2" y="2549.3" width="403.6" height="83.4" stroke-width="2.5"/>
<rect x="853" y="2566.7" width="393.8" height="60" stroke-width="2.5"/>
<path d="M853 2596.7H1246.8M883 2566.7V2626.7M913 2566.7V2626.7M943 2566.7V2626.7M973.5 2566.7V2626.7M1004 2566.7V2626.7M1034 2596.7V2626.7M1064 2566.7V2626.7M1094 2566.7V2626.7M1124.5 2566.7V2626.7M1155 2566.7V2626.7M1185 2566.7V2626.7M1215 2566.7V2626.7"/>
<path d="M1019 2566.7V2554.7H1049.3V2566.7"/>
<rect x="1019" y="2570.7" width="30.3" height="21"/>
</g>
<text class="c" x="868" y="2592" textLength="11" lengthAdjust="spacingAndGlyphs">1</text><text class="c" x="898" y="2592" textLength="13" lengthAdjust="spacingAndGlyphs">2</text><text class="c" x="928" y="2592" textLength="13" lengthAdjust="spacingAndGlyphs">3</text><text class="c" x="958" y="2592" textLength="13" lengthAdjust="spacingAndGlyphs">4</text><text class="c" x="989" y="2592" textLength="13" lengthAdjust="spacingAndGlyphs">5</text><text class="c" x="1079" y="2592" textLength="13" lengthAdjust="spacingAndGlyphs">6</text><text class="c" x="1109" y="2592" textLength="13" lengthAdjust="spacingAndGlyphs">7</text><text class="c" x="1140" y="2592" textLength="13" lengthAdjust="spacingAndGlyphs">8</text><text class="c" x="1170" y="2592" textLength="13" lengthAdjust="spacingAndGlyphs">9</text><text class="c" x="1200" y="2592" textLength="24" lengthAdjust="spacingAndGlyphs">10</text><text class="c" x="1231" y="2592" textLength="24" lengthAdjust="spacingAndGlyphs">11</text>
<text class="d" x="868" y="2622.5" textLength="25" lengthAdjust="spacingAndGlyphs">12</text><text class="d" x="898" y="2622.5" textLength="25" lengthAdjust="spacingAndGlyphs">13</text><text class="d" x="928" y="2622.5" textLength="25" lengthAdjust="spacingAndGlyphs">14</text><text class="d" x="958" y="2622.5" textLength="25" lengthAdjust="spacingAndGlyphs">15</text><text class="d" x="989" y="2622.5" textLength="25" lengthAdjust="spacingAndGlyphs">16</text><text class="d" x="1019" y="2622.5" textLength="25" lengthAdjust="spacingAndGlyphs">17</text><text class="d" x="1049" y="2622.5" textLength="25" lengthAdjust="spacingAndGlyphs">18</text><text class="d" x="1079" y="2622.5" textLength="25" lengthAdjust="spacingAndGlyphs">19</text><text class="d" x="1109" y="2622.5" textLength="25" lengthAdjust="spacingAndGlyphs">20</text><text class="d" x="1140" y="2622.5" textLength="25" lengthAdjust="spacingAndGlyphs">21</text><text class="d" x="1170" y="2622.5" textLength="25" lengthAdjust="spacingAndGlyphs">22</text><text class="d" x="1200" y="2622.5" textLength="25" lengthAdjust="spacingAndGlyphs">23</text><text class="d" x="1231" y="2622.5" textLength="25" lengthAdjust="spacingAndGlyphs">24</text>
</g>
</svg>
</body></html>
